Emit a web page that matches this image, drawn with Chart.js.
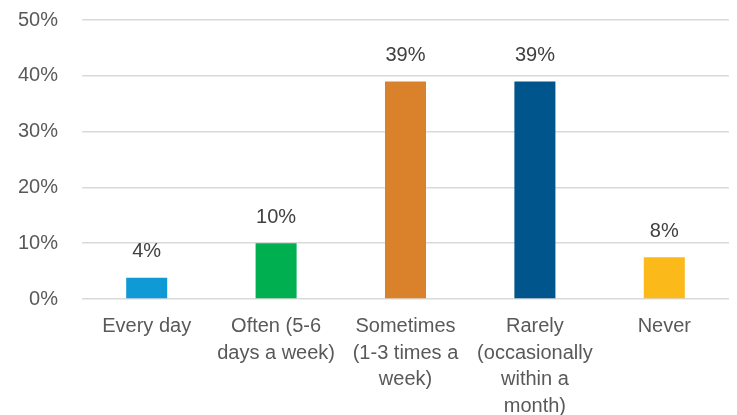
<!DOCTYPE html>
<html>
<head>
<meta charset="utf-8">
<script src="https://cdn.jsdelivr.net/npm/chart.js@4"></script>
<style>
  html, body { margin: 0; padding: 0; background: #fff; }
  #wrap { width: 737px; height: 415px; position: relative; }
</style>
</head>
<body>
<div id="wrap"><canvas id="c"></canvas></div>
<script>
// Frequency of use survey — single-series column chart
const categories = [
  "Every day",
  ["Often (5-6", "days a week)"],
  ["Sometimes", "(1-3 times a", "week)"],
  ["Rarely", "(occasionally", "within a", "month)"],
  "Never",
];
const shares = [3.8, 10, 39, 39, 7.5];
const yTicks = [0, 10, 20, 30, 40, 50];
const barColors = ["#0f9ad6", "#00b050", "#d9822b", "#00558c", "#fbb91a"];

const FONT = "'Liberation Sans', Arial, sans-serif";
const TXT = "#595959";

// value labels above each column
const valueLabels = {
  id: "valueLabels",
  afterDatasetsDraw(chart) {
    const { ctx } = chart;
    const meta = chart.getDatasetMeta(0);
    ctx.save();
    ctx.font = `20px ${FONT}`;
    ctx.fillStyle = "#404040";
    ctx.textAlign = "center";
    ctx.textBaseline = "middle";
    meta.data.forEach((bar, i) => {
      ctx.fillText(Math.round(shares[i]) + "%", bar.x, bar.y - 26);
    });
    ctx.restore();
  },
};

new Chart(document.getElementById("c"), {
  type: "bar",
  data: {
    labels: categories,
    datasets: [{ data: shares, backgroundColor: barColors, categoryPercentage: 1, barPercentage: 0.317 }],
  },
  options: {
    responsive: true,
    maintainAspectRatio: false,
    animation: false,
    layout: { padding: { top: 0, right: 8, left: 0, bottom: 0 } },
    plugins: { legend: { display: false }, tooltip: { enabled: false } },
    scales: {
      x: {
        grid: { display: false, drawTicks: false },
        border: { display: false },
        ticks: { color: TXT, font: { family: FONT, size: 20, lineHeight: 1.335 }, padding: 14, maxRotation: 0, autoSkip: false },
        afterFit: (s) => { s.height = 116; },
      },
      y: {
        min: 0,
        max: 50,
        afterBuildTicks: (s) => { s.ticks = yTicks.map((v) => ({ value: v })); },
        grid: { color: "#d9d9d9", lineWidth: 1.5, drawTicks: false },
        border: { display: false },
        ticks: { color: TXT, font: { family: FONT, size: 20 }, padding: 24, callback: (v) => v + "%" },
        // tick padding would otherwise push the plot top down
        afterFit: (s) => { s.width = 82; s.paddingTop = 20; s.paddingBottom = 0; },
      },
    },
  },
  plugins: [valueLabels],
});
</script>
</body>
</html>
